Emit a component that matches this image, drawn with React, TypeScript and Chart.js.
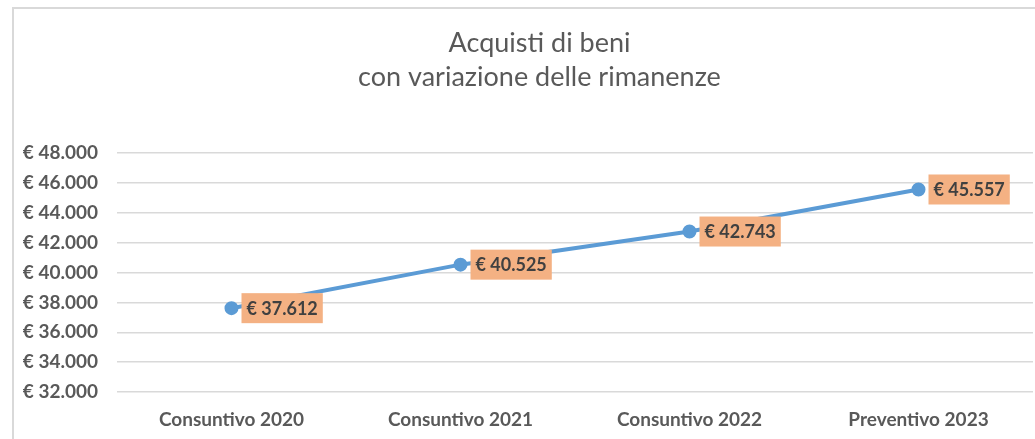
import React, { useEffect, useRef } from "react";
import { Chart, registerables } from "chart.js";

Chart.register(...registerables);

const categories = ["Consuntivo 2020", "Consuntivo 2021", "Consuntivo 2022", "Preventivo 2023"];
const values = [37612, 40525, 42743, 45557];
const titleLines = ["Acquisti di beni", "con variazione delle rimanenze"];
const yMin = 32000;
const yMax = 48000;
const yStep = 2000;

const fmt = (v: number) => "€ " + Math.round(v).toString().replace(/\B(?=(\d{3})+(?!\d))/g, ".");

const labelPlugin = {
  id: "valueBoxes",
  afterLayout(chart: any) {
    // center the title over the whole chart box (Excel-like), not over padded area
    if (chart.titleBlock) {
      chart.titleBlock.left = 0;
      chart.titleBlock.right = chart.width;
    }
  },
  afterDatasetsDraw(chart: any) {
    const ctx = chart.ctx;
    const meta = chart.getDatasetMeta(0);
    ctx.save();
    ctx.font = "bold 18px Lato";
    ctx.textBaseline = "middle";
    ctx.textAlign = "left";
    meta.data.forEach((pt: any, i: number) => {
      const text = fmt(values[i]);
      const w = ctx.measureText(text).width;
      const bx = pt.x + 10;
      const bh = 30;
      const by = pt.y - bh / 2;
      ctx.fillStyle = "#F4B183";
      ctx.fillRect(bx, by, w + 10, bh);
      ctx.fillStyle = "#404040";
      ctx.fillText(text, bx + 5, pt.y + 1);
    });
    ctx.restore();
  },
};

export default function App() {
  const ref = useRef<HTMLCanvasElement>(null);
  useEffect(() => {
    if (!ref.current) return;
    const chart = new Chart(ref.current, {
      type: "line",
      data: {
        labels: categories,
        datasets: [
          {
            data: values,
            borderColor: "#5B9BD5",
            backgroundColor: "#5B9BD5",
            borderWidth: 4,
            pointRadius: 5,
            pointBackgroundColor: "#5B9BD5",
            pointBorderColor: "#5B9BD5",
            tension: 0,
          },
        ],
      },
      options: {
        animation: false,
        responsive: false,
        layout: { padding: { left: 9, right: 32, top: 0, bottom: 7 } },
        plugins: {
          legend: { display: false },
          tooltip: { enabled: false },
          title: {
            display: true,
            text: titleLines,
            color: "#595959",
            font: { family: "Lato", size: 27, weight: 400, lineHeight: "34px" },
            padding: { top: 17, bottom: 59 },
          },
        },
        scales: {
          x: {
            offset: true,
            grid: { display: false, drawTicks: false },
            border: { display: false },
            ticks: { color: "#595959", font: { family: "Lato", size: 19, weight: "bold" }, padding: 16, maxRotation: 0 },
            afterFit: (s: any) => { s.height = 40; },
          },
          y: {
            min: yMin,
            max: yMax,
            grid: { color: "#D9D9D9", lineWidth: 1.5, drawTicks: false },
            border: { display: false },
            ticks: {
              stepSize: yStep,
              color: "#595959",
              font: { family: "Lato", size: 19, weight: "bold" },
              padding: 19,
              callback: (v: any) => fmt(Number(v)),
            },
            afterFit: (s: any) => { s.width = 94; },
          },
        },
      },
      plugins: [labelPlugin],
    });
    return () => chart.destroy();
  }, []);
  return (
    <div style={{ position: "fixed", left: 0, top: 0, width: 1035, height: 439, overflow: "hidden", background: "#fff" }}>
      <div style={{ position: "absolute", left: 12, top: 7, width: 1051, height: 460, borderLeft: "2px solid #D9D9D9", borderTop: "2px solid #D9D9D9" }}>
        <canvas ref={ref} width={1051} height={430} style={{ display: "block" }} />
      </div>
    </div>
  );
}
